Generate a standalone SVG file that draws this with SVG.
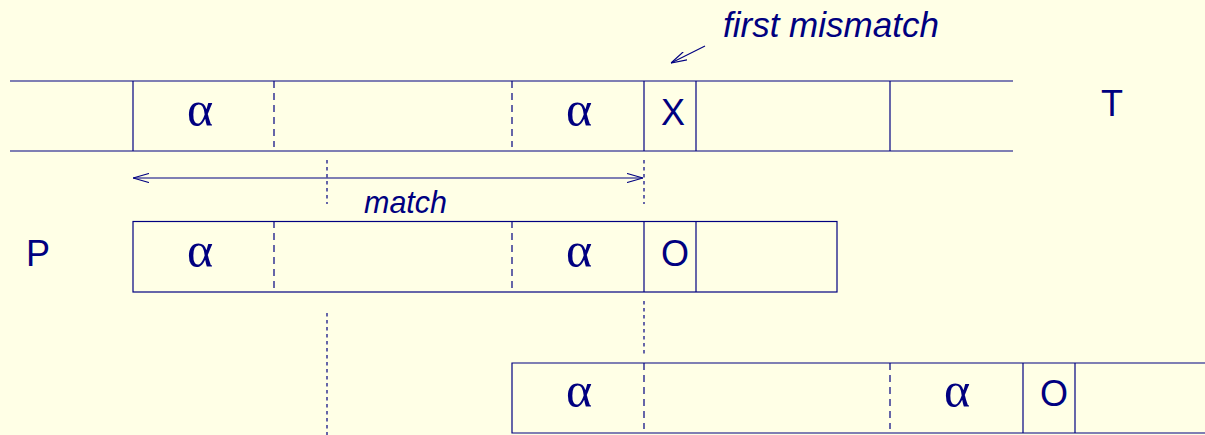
<svg xmlns="http://www.w3.org/2000/svg" width="1205" height="435" viewBox="0 0 1205 435">
  <defs>
    <style>
      .ln { stroke: #000080; stroke-width: 1.2; fill: none; }
      .dash { stroke: #000080; stroke-width: 1.2; fill: none; stroke-dasharray: 7 5; }
      .dot { stroke: #000080; stroke-width: 1.2; fill: none; stroke-dasharray: 3.5 3.5; }
      .t { font-family: "Liberation Sans", Arial, sans-serif; fill: #000080; }
      .it { font-style: italic; }
      .g { font-family: "Liberation Serif", "DejaVu Serif", serif; fill: #000080; font-size: 50px; text-anchor: middle; }
      .c { text-anchor: middle; }
    </style>
    <marker id="open" viewBox="0 0 16 10" refX="16" refY="5" markerWidth="16" markerHeight="10" markerUnits="userSpaceOnUse" orient="auto-start-reverse">
      <path d="M0,0.5 L16,5 L0,9.5" stroke="#000080" stroke-width="1.2" fill="none"/>
    </marker>
  </defs>
  <rect width="1205" height="435" fill="#ffffe6"/>

  <g id="text-T">
    <line class="ln" x1="10" y1="81" x2="1013" y2="81"/>
    <line class="ln" x1="10" y1="151" x2="1013" y2="151"/>
    <line class="ln" x1="133" y1="81" x2="133" y2="151"/>
    <line class="dash" x1="274" y1="81" x2="274" y2="147"/>
    <line class="dash" x1="512" y1="81" x2="512" y2="147"/>
    <line class="ln" x1="644" y1="81" x2="644" y2="151"/>
    <line class="ln" x1="696" y1="81" x2="696" y2="151"/>
    <line class="ln" x1="890" y1="81" x2="890" y2="151"/>
    <text class="g" x="200" y="126">α</text>
    <text class="g" x="579" y="126">α</text>
    <text class="t c" x="673" y="124.5" font-size="36">X</text>
    <text class="t c" x="1112" y="116" font-size="36">T</text>
  </g>

  <g id="pattern-P">
    <rect class="ln" x="133" y="221.5" width="704" height="70.5"/>
    <line class="dash" x1="274" y1="221" x2="274" y2="288"/>
    <line class="dash" x1="512" y1="221" x2="512" y2="288"/>
    <line class="ln" x1="644" y1="221" x2="644" y2="292"/>
    <line class="ln" x1="696" y1="221" x2="696" y2="292"/>
    <text class="g" x="200" y="267">α</text>
    <text class="g" x="579" y="267">α</text>
    <text class="t c" x="675" y="266" font-size="36">O</text>
    <text class="t" x="26" y="266" font-size="36">P</text>
  </g>

  <g id="pattern-shifted">
    <path class="ln" d="M1205,363 H512 V433 H1205"/>
    <line class="dash" x1="644" y1="363" x2="644" y2="429"/>
    <line class="dash" x1="890" y1="363" x2="890" y2="429"/>
    <line class="ln" x1="1023" y1="363" x2="1023" y2="433"/>
    <line class="ln" x1="1075" y1="363" x2="1075" y2="433"/>
    <text class="g" x="579" y="407">α</text>
    <text class="g" x="957" y="407">α</text>
    <text class="t c" x="1054" y="406" font-size="36">O</text>
  </g>

  <g id="connectors">
    <line class="ln" x1="133" y1="178" x2="643" y2="178" marker-start="url(#open)" marker-end="url(#open)"/>
    <line class="dot" x1="327" y1="160" x2="327" y2="204"/>
    <line class="dot" x1="644" y1="160" x2="644" y2="204"/>
    <line class="dot" x1="327" y1="313" x2="327" y2="435"/>
    <line class="dot" x1="644" y1="301" x2="644" y2="354"/>
    <line class="ln" x1="705" y1="46" x2="671" y2="63" marker-end="url(#open)"/>
  </g>

  <g id="labels">
    <text class="t it" x="364" y="213" font-size="30.5">match</text>
    <text class="t it" x="723" y="37" font-size="35">first mismatch</text>
  </g>
</svg>
